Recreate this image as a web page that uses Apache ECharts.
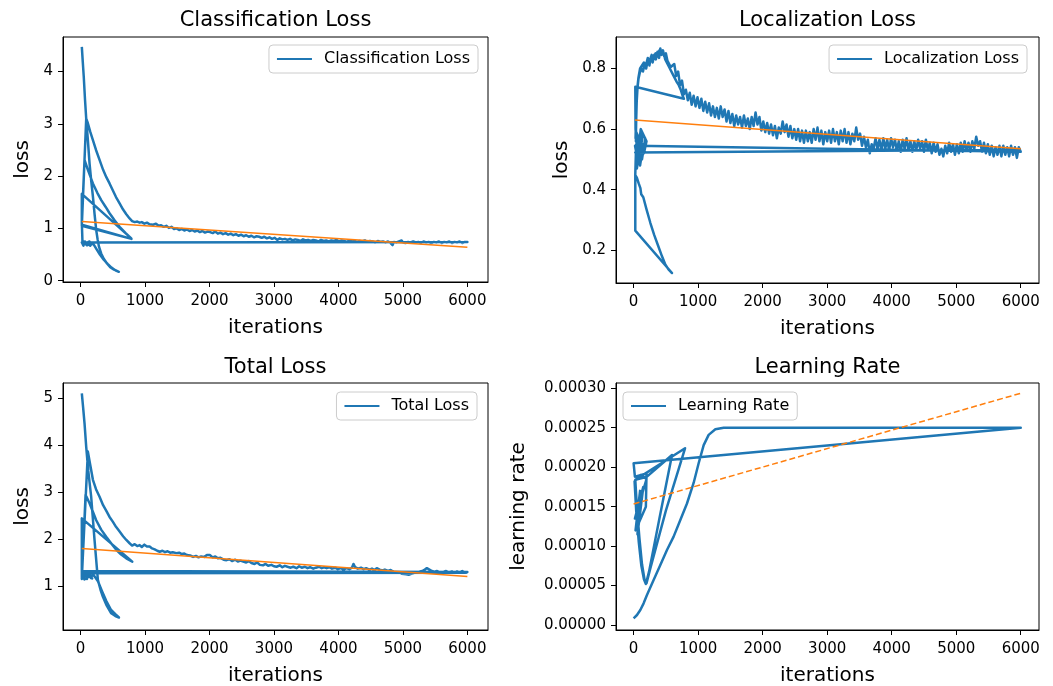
<!DOCTYPE html>
<html>
<head>
<meta charset="utf-8">
<title>training curves</title>
<script src="https://cdn.jsdelivr.net/npm/echarts@6.0.0/dist/echarts.min.js"></script>
<style>
  html, body { margin: 0; padding: 0; background: #fff; }
  #main { width: 1053px; height: 686px; }
</style>
</head>
<body>
<div id="main"></div>
<script>
// tick labels
const xTicks = [0, 1000, 2000, 3000, 4000, 5000, 6000];
const clsTicks = [0, 1, 2, 3, 4];
const locTicks = [0.2, 0.4, 0.6, 0.8];
const totalTicks = [1, 2, 3, 4, 5];
const lrTicks = [0, 0.00005, 0.0001, 0.00015, 0.0002, 0.00025, 0.0003];

// classification loss, [iteration, loss] in log order (several runs appended)
const clsLoss = [
  [20,4.47],[35,4.18],[50,3.9],[70,3.45],[88,3.1],[110,2.75],[140,2.24],[165,1.92],[192,1.61],[218,1.27],
  [243,0.97],[265,0.79],[286,0.65],[320,0.52],[360,0.42],[410,0.33],[460,0.26],[520,0.21],[595,0.17],
  [540,0.2],[480,0.25],[420,0.32],[360,0.4],[300,0.5],[250,0.6],[210,0.68],
  [180,0.72],[150,0.67],[120,0.74],[95,0.68],[70,0.75],[45,0.67],[25,0.72],
  [60,0.7],[140,0.75],[110,0.68],[170,0.7],[30,0.74],
  [20,1.12],[62,2.31],[114,2.12],[192,1.86],[260,1.68],[321,1.54],[390,1.41],[450,1.29],[530,1.15],[606,1.03],[700,0.91],[787,0.81],
  [20,1.66],[20,1.07],[790,0.8],[20,1.05],
  [88,3.1],[114,3.01],[150,2.85],[192,2.69],[240,2.5],[295,2.31],[350,2.12],[400,1.98],[450,1.86],[500,1.73],
  [550,1.6],[606,1.48],[660,1.36],[710,1.27],[761,1.19],[800,1.14],[840,1.12],[880,1.13],[917,1.11],[950,1.12],
  [990,1.09],[1030,1.11],[1070,1.08],[1124,1.07],[1170,1.09],[1210,1.05],[1250,1.06],[1290,1.03],[1330,1.05],[1370,1.01],
  [1410,1.03],[1450,0.99],[1490,1.0],[1530,0.97],[1570,0.99],[1610,0.96],[1650,0.98],[1690,0.95],[1730,0.97],[1770,0.94],
  [1810,0.96],[1850,0.93],[1890,0.95],[1930,0.92],[1970,0.94],[2010,0.93],[2050,0.91],[2090,0.94],[2130,0.9],[2170,0.92],
  [2210,0.89],[2250,0.91],[2290,0.88],[2330,0.9],[2370,0.87],[2410,0.89],[2450,0.86],[2490,0.88],[2530,0.85],[2570,0.87],
  [2610,0.84],[2650,0.86],[2690,0.83],[2730,0.85],[2770,0.84],[2810,0.82],[2850,0.84],[2890,0.81],[2930,0.83],[2970,0.8],
  [3010,0.82],[3050,0.78],[3090,0.81],[3130,0.79],[3170,0.8],[3210,0.78],[3250,0.8],[3290,0.77],[3330,0.79],[3370,0.78],
  [3410,0.76],[3450,0.79],[3490,0.77],[3530,0.78],[3570,0.76],[3610,0.78],[3650,0.77],[3690,0.75],[3730,0.78],[3770,0.76],
  [3810,0.77],[3850,0.75],[3890,0.77],[3930,0.76],[3970,0.78],[4010,0.75],[4050,0.77],[4090,0.76],[4130,0.74],[4170,0.77],
  [4210,0.75],[4250,0.76],[4290,0.74],[4330,0.76],[4370,0.75],[4410,0.77],[4450,0.74],[4490,0.76],[4530,0.75],[4570,0.73],
  [4610,0.76],[4650,0.74],[4690,0.75],[4730,0.73],[4770,0.75],[4810,0.72],[4840,0.68],[4860,0.74],[4900,0.73],[4940,0.75],
  [4980,0.77],[5000,0.73],[5040,0.72],[5080,0.74],[5120,0.73],[5160,0.75],[5200,0.73],[5240,0.74],[5280,0.72],[5320,0.75],
  [5360,0.73],[5400,0.74],[5440,0.72],[5480,0.74],[5520,0.73],[5560,0.75],[5600,0.72],[5640,0.74],[5680,0.73],[5720,0.75],
  [5760,0.72],[5800,0.74],[5840,0.73],[5880,0.75],[5920,0.72],[5960,0.74],[6000,0.74],
  [20,0.73],[50,0.69],[35,0.76],[80,0.71]
];
const clsTrend = [[20,1.13],[6000,0.64]];

// localization loss
const locLoss = [
  [22,0.45],[50,0.44],[80,0.42],[105,0.405],[130,0.4],[118,0.385],[150,0.375],[200,0.335],[260,0.29],[320,0.25],
  [380,0.215],[440,0.18],[491,0.153],[540,0.137],[595,0.125],
  [26,0.265],[26,0.45],
  [35,0.52],[60,0.58],[45,0.49],[90,0.56],[70,0.5],[120,0.59],[100,0.48],[150,0.55],[130,0.5],[180,0.57],[160,0.52],[200,0.56],
  [110,0.6],[50,0.47],[140,0.58],[80,0.49],[170,0.53],[40,0.59],[120,0.51],[60,0.56],
  [30,0.57],[40,0.66],[55,0.73],[75,0.77],[100,0.8],[130,0.81],[160,0.82],[190,0.81],[220,0.835],[250,0.825],
  [280,0.845],[310,0.83],[340,0.85],[370,0.84],[400,0.86],[430,0.845],[460,0.855],[490,0.83],[520,0.83],[550,0.805],
  [580,0.8],[610,0.78],[640,0.785],[670,0.755],[700,0.745],[730,0.73],[760,0.71],[780,0.7],
  [26,0.74],[30,0.6],[50,0.55],[35,0.5],[70,0.57],[35,0.56],
  [40,0.63],[48,0.69],[60,0.735],[75,0.765],[95,0.785],[120,0.8],[145,0.79],[170,0.815],[195,0.8],[220,0.83],
  [245,0.81],[270,0.84],[295,0.82],[320,0.845],[345,0.83],[370,0.855],[395,0.835],[414,0.866],[435,0.845],[455,0.86],
  [475,0.84],[500,0.85],[525,0.825],[550,0.83],[575,0.805],
  [600,0.8],[630,0.815],[660,0.775],[690,0.79],[720,0.745],[750,0.76],[780,0.715],[810,0.73],[840,0.695],[870,0.72],
  [900,0.68],[930,0.71],[960,0.675],[990,0.705],[1020,0.67],[1050,0.7],[1080,0.66],[1110,0.69],[1140,0.655],[1170,0.685],
  [1200,0.645],[1230,0.675],[1260,0.64],[1290,0.67],[1320,0.635],[1350,0.675],[1380,0.64],[1410,0.665],[1440,0.625],[1470,0.66],
  [1500,0.62],[1530,0.65],[1560,0.61],[1590,0.645],[1620,0.615],[1650,0.64],[1680,0.605],[1710,0.645],[1740,0.61],[1770,0.635],
  [1800,0.6],[1830,0.64],[1860,0.61],[1890,0.655],[1920,0.615],[1950,0.64],[1980,0.595],[2010,0.625],[2040,0.59],[2070,0.62],
  [2100,0.585],[2130,0.615],[2160,0.58],[2190,0.61],[2220,0.57],[2250,0.605],[2280,0.585],[2310,0.625],[2340,0.59],[2370,0.615],
  [2400,0.575],[2430,0.61],[2460,0.57],[2490,0.6],[2520,0.565],[2550,0.6],[2580,0.56],[2610,0.595],[2640,0.555],[2670,0.595],
  [2700,0.56],[2730,0.59],[2760,0.555],[2790,0.6],[2820,0.565],[2850,0.605],[2880,0.56],[2910,0.595],[2940,0.55],[2970,0.59],
  [3000,0.56],[3030,0.595],[3060,0.555],[3090,0.6],[3120,0.56],[3150,0.59],[3180,0.55],[3210,0.595],[3240,0.56],[3270,0.6],
  [3300,0.555],[3330,0.59],[3360,0.55],[3390,0.585],[3420,0.56],[3450,0.605],[3480,0.565],[3510,0.585],[3540,0.545],[3570,0.575],
  [3600,0.54],[3630,0.565],[3660,0.52],[3690,0.55],[3720,0.535],[3750,0.57],[3780,0.535],[3810,0.565],[3840,0.53],[3870,0.57],
  [3900,0.535],[3930,0.565],[3960,0.53],[3990,0.57],[4020,0.54],[4050,0.565],[4080,0.53],[4110,0.56],[4140,0.525],[4170,0.565],
  [4200,0.535],[4230,0.57],[4260,0.53],[4290,0.56],[4320,0.525],[4350,0.56],[4380,0.53],[4410,0.565],[4440,0.535],[4470,0.56],
  [4500,0.525],[4530,0.565],[4560,0.53],[4590,0.555],[4620,0.52],[4650,0.555],[4680,0.525],[4710,0.55],[4740,0.515],[4770,0.535],
  [4800,0.51],[4830,0.545],[4860,0.52],[4890,0.555],[4920,0.525],[4950,0.55],[4980,0.515],[5010,0.55],[5040,0.52],[5070,0.555],
  [5100,0.525],[5130,0.56],[5160,0.53],[5190,0.555],[5220,0.525],[5250,0.56],[5280,0.535],[5310,0.575],[5340,0.545],[5370,0.56],
  [5400,0.525],[5430,0.555],[5460,0.52],[5490,0.55],[5520,0.515],[5550,0.545],[5580,0.51],[5610,0.54],[5640,0.515],[5670,0.545],
  [5700,0.51],[5730,0.545],[5760,0.515],[5790,0.54],[5820,0.51],[5850,0.545],[5880,0.515],[5910,0.54],[5940,0.505],[5970,0.54],
  [6000,0.525],
  [22,0.545],[60,0.5],[40,0.57],[80,0.52],[25,0.523],[6000,0.532]
];
const locTrend = [[20,0.63],[6000,0.535]];

// total loss
const totalLoss = [
  [20,5.1],[40,4.8],[62,4.46],[88,3.96],[120,3.45],[165,2.9],[217,1.98],[269,1.13],[310,0.92],[347,0.77],
  [400,0.6],[476,0.42],[540,0.36],[596,0.33],
  [540,0.4],[470,0.5],[400,0.68],[330,0.9],[270,1.1],[220,1.2],
  [190,1.25],[160,1.17],[130,1.27],[100,1.15],[75,1.28],[50,1.18],[25,1.24],
  [60,1.14],[150,1.22],[110,1.3],[180,1.16],[40,1.28],
  [20,1.15],[78,2.94],[140,2.76],[243,2.4],[320,2.2],[398,2.05],[480,1.9],[554,1.77],[630,1.67],[709,1.59],[803,1.52],
  [20,2.44],[20,1.18],
  [114,3.86],[150,3.58],[192,3.26],[240,3.06],[295,2.9],[350,2.72],[400,2.6],[450,2.47],[500,2.37],[550,2.26],
  [606,2.16],[660,2.06],[710,1.98],[761,1.91],[800,1.86],[840,1.89],[880,1.85],[917,1.87],[950,1.83],[990,1.88],
  [1030,1.84],[1072,1.84],[1110,1.8],[1150,1.78],[1190,1.75],[1228,1.73],[1270,1.75],[1310,1.72],[1350,1.74],[1390,1.71],
  [1430,1.72],[1487,1.7],[1530,1.71],[1570,1.68],[1610,1.69],[1650,1.66],[1700,1.65],[1746,1.62],[1790,1.64],[1830,1.61],
  [1870,1.63],[1920,1.62],[1960,1.66],[2005,1.66],[2050,1.61],[2090,1.63],[2130,1.59],[2170,1.6],[2220,1.56],[2264,1.55],
  [2310,1.57],[2350,1.53],[2400,1.56],[2440,1.52],[2480,1.54],[2523,1.52],[2570,1.5],[2610,1.53],[2650,1.49],[2700,1.47],
  [2740,1.5],[2782,1.45],[2830,1.44],[2870,1.47],[2910,1.43],[2960,1.45],[3000,1.42],[3041,1.41],[3090,1.44],[3130,1.4],
  [3170,1.43],[3210,1.41],[3260,1.39],[3300,1.41],[3350,1.38],[3390,1.42],[3430,1.39],[3480,1.41],[3520,1.38],[3560,1.4],
  [3610,1.37],[3650,1.39],[3700,1.41],[3740,1.38],[3780,1.4],[3818,1.38],[3860,1.4],[3900,1.37],[3950,1.39],[3990,1.36],
  [4040,1.38],[4080,1.35],[4120,1.38],[4170,1.36],[4210,1.39],[4233,1.47],[4260,1.4],[4300,1.37],[4350,1.39],[4390,1.36],
  [4430,1.38],[4480,1.35],[4520,1.37],[4560,1.34],[4595,1.38],[4640,1.35],[4680,1.33],[4720,1.35],[4770,1.32],[4810,1.34],
  [4854,1.3],[4900,1.28],[4940,1.3],[4980,1.26],[5009,1.23],[5050,1.25],[5090,1.24],[5130,1.26],[5164,1.27],[5210,1.29],
  [5250,1.3],[5300,1.32],[5340,1.35],[5372,1.38],[5400,1.34],[5450,1.32],[5490,1.3],[5530,1.32],[5570,1.29],[5631,1.3],
  [5670,1.32],[5710,1.29],[5760,1.31],[5800,1.28],[5840,1.31],[5880,1.29],[5920,1.32],[5960,1.29],[6000,1.3],
  [20,1.32],[45,1.22],[70,1.3],[30,1.2],[25,1.27],[6000,1.28]
];
const totalTrend = [[20,1.8],[6000,1.2]];

// learning rate
const lrCurve = [
  [0,0.0000085],[52,0.0000127],[104,0.000019],[155,0.0000275],[207,0.000038],[310,0.000057],[414,0.000076],[517,0.000095],
  [620,0.000112],[724,0.000133],[827,0.000154],[930,0.00018],[1008,0.000205],[1086,0.000228],[1163,0.000241],[1267,0.000248],
  [1396,0.00025],[6000,0.00025],
  [0,0.000205],[20,0.000188],[200,0.000192],
  [190,0.00015],[30,0.00012],[100,0.00017],[60,0.000115],[150,0.000175],[20,0.000135],[200,0.000185],[110,0.00019],
  [15,0.000182],[40,0.000145],[80,0.000105],[120,0.000075],[160,0.000058],[190,0.000052],[240,0.000068],[400,0.000135],[595,0.0002155],
  [207,0.000188],[26,0.000184],
  [50,0.00015],[90,0.00011],[130,0.000077],[170,0.000057],[200,0.000053],[260,0.000072],[500,0.000145],[797,0.000224],
  [26,0.000184]
];
const lrTrend = [[0,0.0001534],[6000,0.0002937]];

const BLUE = '#1f77b4';
const ORANGE = '#ff7f0e';
const FONT = 'DejaVu Sans';

const panels = [
  { title: 'Classification Loss', yName: 'loss', data: clsLoss, trend: clsTrend, yTicks: clsTicks,
    grid: { left: 63, top: 37, width: 425, height: 245 }, x: [-272, 6320], y: [-0.025, 4.66], yGap: 30,
    legend: { right: 575, top: 45 }, titlePos: { left: 275.5, top: 10 } },
  { title: 'Localization Loss', yName: 'loss', data: locLoss, trend: locTrend, yTicks: locTicks,
    grid: { left: 616, top: 37, width: 423, height: 246 }, x: [-273, 6283], y: [0.092, 0.904], yGap: 44,
    legend: { right: 26, top: 45 }, titlePos: { left: 827.5, top: 10 } },
  { title: 'Total Loss', yName: 'loss', data: totalLoss, trend: totalTrend, yTicks: totalTicks,
    grid: { left: 63, top: 383, width: 425, height: 247 }, x: [-272, 6320], y: [0.064, 5.32], yGap: 30,
    legend: { right: 576, top: 392 }, titlePos: { left: 275.5, top: 357 } },
  { title: 'Learning Rate', yName: 'learning rate', data: lrCurve, trend: lrTrend, yTicks: lrTicks, dashed: true,
    grid: { left: 616, top: 383, width: 423, height: 247 }, x: [-273, 6283], y: [-0.0000063, 0.0003067], yGap: 87,
    legend: { left: 623, top: 392 }, titlePos: { left: 827.5, top: 357 }, fmt: v => v.toFixed(5) }
];

const option = {
  animation: false,
  backgroundColor: '#fff',
  textStyle: { fontFamily: FONT },
  title: [], legend: [], grid: [], xAxis: [], yAxis: [], series: []
};

panels.forEach(function (p, i) {
  option.title.push(Object.assign({
    text: p.title, textAlign: 'center', padding: 0,
    textStyle: { fontFamily: FONT, fontSize: 21, fontWeight: 'normal', color: '#000' }
  }, p.titlePos));

  option.legend.push(Object.assign({
    data: [p.title], selectedMode: false, icon: 'rect',
    itemWidth: 35, itemHeight: 2, padding: [6, 8, 6, 8],
    borderColor: '#cccccc', borderWidth: 1, borderRadius: 4,
    backgroundColor: 'rgba(255,255,255,0.85)',
    textStyle: { fontFamily: FONT, fontSize: 16, color: '#000', padding: [0, 0, 0, 7] }
  }, p.legend));

  option.grid.push(Object.assign({
    show: true, borderColor: '#000', borderWidth: 1, backgroundColor: '#fff',
    containLabel: false, outerBoundsMode: 'none'
  }, p.grid));

  option.xAxis.push({
    type: 'value', gridIndex: i, min: p.x[0], max: p.x[1],
    name: 'iterations', nameLocation: 'middle', nameGap: 36,
    nameTextStyle: { fontFamily: FONT, fontSize: 20, color: '#000' },
    axisLine: { show: true, onZero: false, lineStyle: { color: '#000', width: 1 } },
    axisTick: { show: true, length: 5, customValues: xTicks, lineStyle: { color: '#000' } },
    axisLabel: { customValues: xTicks, fontFamily: FONT, fontSize: 15, color: '#000', margin: 12,
      formatter: function (v) { return String(v); } },
    splitLine: { show: false }
  });

  option.yAxis.push({
    type: 'value', gridIndex: i, min: p.y[0], max: p.y[1],
    name: p.yName, nameLocation: 'middle', nameGap: p.yGap,
    nameTextStyle: { fontFamily: FONT, fontSize: 20, color: '#000' },
    axisLine: { show: true, onZero: false, lineStyle: { color: '#000', width: 1 } },
    axisTick: { show: true, length: 5, customValues: p.yTicks, lineStyle: { color: '#000' } },
    axisLabel: { customValues: p.yTicks, fontFamily: FONT, fontSize: 15, color: '#000', margin: 10,
      formatter: p.fmt || function (v) { return String(v); } },
    splitLine: { show: false }
  });

  option.series.push({
    name: p.title, type: 'line', xAxisIndex: i, yAxisIndex: i, data: p.data,
    symbol: 'none', showSymbol: false, silent: true, z: 2,
    itemStyle: { color: BLUE },
    lineStyle: { color: BLUE, width: 2.5, join: 'round' }
  });

  option.series.push({
    name: p.title + ' fit', type: 'line', xAxisIndex: i, yAxisIndex: i, data: p.trend,
    symbol: 'none', showSymbol: false, silent: true, z: 3,
    itemStyle: { color: ORANGE },
    lineStyle: { color: ORANGE, width: 1.5, type: p.dashed ? [6, 3] : 'solid' }
  });
});

const chart = echarts.init(document.getElementById('main'));
chart.setOption(option);
</script>
</body>
</html>
